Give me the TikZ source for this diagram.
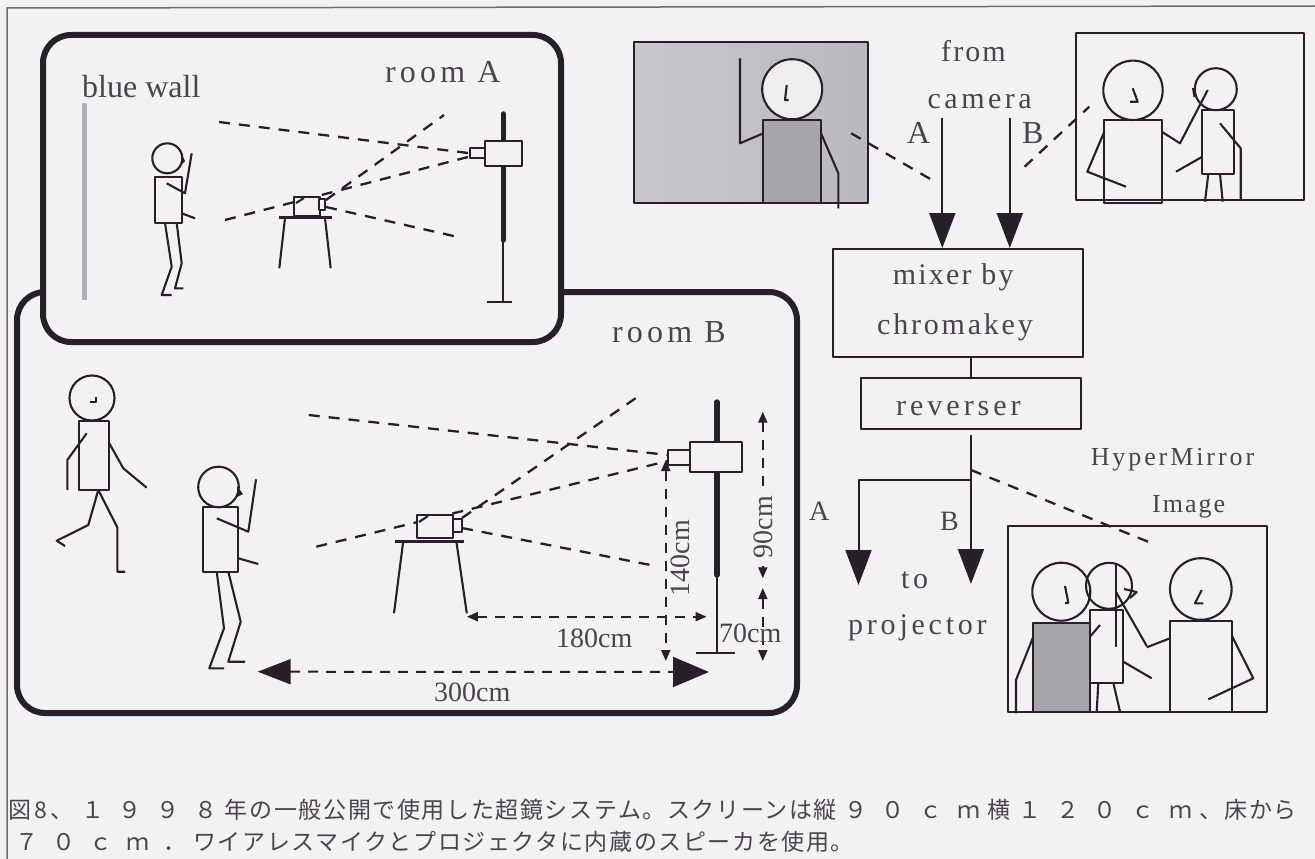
\documentclass[tikz,border=0pt]{standalone}
\usepackage{fontspec}
\setmainfont{Liberation Serif}
\newfontfamily\jpfont[LetterSpace=7.0]{Noto Sans CJK JP}
\usetikzlibrary{arrows.meta}
\definecolor{paper}{RGB}{242,242,243}
\definecolor{ink}{RGB}{38,33,36}
\definecolor{txt}{RGB}{72,70,72}
\definecolor{wallgray}{RGB}{176,176,178}
\definecolor{scrL}{RGB}{200,200,202}
\definecolor{scrR}{RGB}{186,186,188}
\definecolor{bodygray}{RGB}{166,166,168}
\definecolor{headwhite}{RGB}{238,238,238}
\definecolor{edge}{RGB}{110,108,110}
\newcommand\spaced[3]{{\fontsize{#1}{#1}\selectfont\addfontfeature{LetterSpace=#2}#3}}
\newcommand\plain[2]{{\fontsize{#1}{#1}\selectfont #2}}
\newcommand\fwbox[2][37.8pt]{\makebox[#1]{#2}}
\begin{document}
\begin{tikzpicture}[x=1pt,y=-1pt,line join=round,
  fig/.style={draw=ink,line width=2.1pt},
  roombox/.style={draw=ink,line width=6pt,rounded corners=28pt},
  sight/.style={draw=ink,line width=2.3pt,dash pattern=on 11pt off 9pt},
  dimline/.style={draw=ink,line width=2pt,dash pattern=on 10pt off 8pt},
  smalltips/.style={{Triangle[length=11pt,width=9pt]}-{Triangle[length=11pt,width=9pt]}},
  bigtips/.style={{Triangle[length=33pt,width=25pt]}-{Triangle[length=36pt,width=30pt]}},
  flow/.style={draw=ink,line width=2pt,-{Triangle[length=35pt,width=26pt]}},
  unit/.style={draw=ink,line width=2pt,inner sep=0pt,fill=paper},
  frameimg/.style={draw=ink,line width=2pt},
  lab/.style={inner sep=0pt,anchor=base west,text=txt},
]
\useasboundingbox (0,0) rectangle (1315,859);
\fill[paper] (0,0) rectangle (1315,859);
% page edge lines
\draw[edge,line width=1.5pt] (7,859) -- (7,8) -- (1315,6);

% ---------------- rooms ----------------
\draw[roombox] (17,292) rectangle (797,713);
\draw[roombox,fill=paper] (43,35) rectangle (561,342);

% ---------------- room A ----------------
\draw[wallgray,line width=5pt] (84,103) -- (84,300);
\node[lab,text=txt] (bluewall) at (82,97) {\plain{32}{blue wall}};
\node[lab] (roomA) at (385,82) {\spaced{32}{13}{room A}};
% lines of sight
\draw[sight] (219,122) -- (468,153);
\draw[sight] (225,220) -- (468,157);
\draw[sight] (326,200) -- (444,115);
\draw[sight] (326,207) -- (456.6,236.7);
% camera stand
\draw[ink,line width=5.5pt,line cap=round] (503.3,114) -- (503.3,240);
\draw[fig] (503.3,240) -- (503.3,301.7);
\draw[fig] (487.3,301.7) -- (511.7,301.7);
\draw[fig,fill=paper] (485,140.7) rectangle (522.3,166);
\draw[fig,fill=paper] (470,148.3) rectangle (485,158.3);
% projector on table
\draw[fig] (285,218) -- (279.3,268.3);
\draw[fig] (325,218) -- (330.7,268.3);
\draw[fig,fill=paper] (294,197.3) rectangle (320,216);
\draw[fig,fill=paper] (319.3,199.3) rectangle (325,210);
\draw[fig] (296,203) -- (304,198);
\draw[ink,line width=3.2pt] (279.3,217.7) -- (331.7,217.7);
% person
\draw[fig,fill=paper] (155,177) rectangle (182,223);
\draw[fig] (166.7,183.3) -- (185,193.3) -- (191.7,153.3);
\draw[fig] (181.7,213.3) -- (195,218.3);
\draw[fig,fill=paper] (167.3,158.3) circle[radius=15];
\fill[ink] (181,153) -- (185,161) -- (181,165) -- cycle;
\draw[fig] (165,223) -- (171.7,266.7) -- (161.7,295) -- (171.7,295);
\draw[fig] (176.7,223) -- (181.7,263.3) -- (175,288.3) -- (183.3,288.3);

% ---------------- room B ----------------
\node[lab] (roomB) at (612,342) {\spaced{32}{13}{room B}};
\draw[sight] (308.7,415) -- (668,455);
\draw[sight] (316.3,546.7) -- (668,461);
\draw[sight] (462,518) -- (640.3,395);
\draw[sight] (462,528) -- (650.5,565);
% camera stand
\draw[ink,line width=5.5pt,line cap=round] (716.8,402) -- (716.8,575);
\draw[fig] (716.8,575) -- (716.8,653.3);
\draw[fig] (696.4,653.3) -- (734.7,653.3);
\draw[fig,fill=paper] (689.8,441.7) rectangle (742.3,471.7);
\draw[fig,fill=paper] (668.4,450) rectangle (689.8,465);
% projector on table
\draw[fig] (403,543) -- (394,613.3);
\draw[fig] (456.6,543) -- (466.8,613.3);
\draw[fig,fill=paper] (417.3,515) rectangle (453,538.3);
\draw[fig,fill=paper] (453,519.3) rectangle (461.7,531.7);
\draw[fig] (419,522) -- (428,516);
\draw[ink,line width=3.2pt] (395.4,541.7) -- (464.3,541.7);
% walking person
\draw[fig,fill=paper] (79.3,420.7) rectangle (109.3,490);
\draw[fig] (86.7,433.3) -- (67.3,460) -- (67.3,490);
\draw[fig] (109.3,443.3) -- (123.3,468.3) -- (146.7,487.7);
\draw[fig,fill=paper] (92,398) circle[radius=22.5];
\draw[fig] (90,402) -- (96,402) -- (96,397);
\draw[fig] (98.3,490) -- (88.3,525) -- (56.7,540.7) -- (65,546);
\draw[fig] (98.3,490) -- (117.3,527.3) -- (117.3,571.7) -- (125,571.7);
% person with microphone
\draw[fig,fill=paper] (202.7,507.3) rectangle (238.3,571.7);
\draw[fig] (216.7,518.3) -- (248.3,531.7) -- (256,479.3);
\draw[fig] (238.3,558.3) -- (258.3,564);
\draw[fig,fill=paper] (218.5,487) circle[radius=20.3];
\fill[ink] (237,486) -- (243,494) -- (237,497) -- cycle;
\draw[fig] (216.7,571.7) -- (224,628.3) -- (209.3,668.3) -- (224,668.3);
\draw[fig] (228.3,571.7) -- (240.7,621.7) -- (228.3,661.7) -- (245,661.7);
% dimensions
\coordinate (d140a) at (665.8,460);
\coordinate (d140b) at (665.8,661);
\coordinate (d90a) at (762.8,411.7);
\coordinate (d90b) at (762.8,578.3);
\coordinate (d70a) at (762.8,588);
\coordinate (d70b) at (762.8,661);
\coordinate (d180a) at (466.8,616.7);
\coordinate (d180b) at (706.6,616.7);
\coordinate (d300a) at (257.7,671.7);
\coordinate (d300b) at (709,672);
\draw[dimline,smalltips] (d140a) -- (d140b);
\draw[dimline,smalltips] (d90a) -- (d90b);
\draw[dimline,smalltips] (d70a) -- (d70b);
\draw[dimline,smalltips] (d180a) -- (d180b);
\draw[dimline,bigtips] (d300a) -- (d300b);
\node[inner sep=0pt,text=txt,rotate=90] (t140) at (680,558) {\plain{28}{140cm}};
\node[inner sep=2pt,text=txt,rotate=90,fill=paper] (t90) at (763,527) {\plain{28}{90cm}};
\node[lab] (t70) at (719,642) {\plain{28}{70cm}};
\node[lab] (t180) at (556,647) {\plain{28}{180cm}};
\node[lab] (t300) at (434,701) {\plain{28}{300cm}};

% ---------------- camera image A ----------------
\shade[left color=scrL,right color=scrR] (634.3,41.7) rectangle (867.7,202.7);
\draw[fig] (740,58.3) -- (740,143.3) -- (763.3,133.3);
\draw[fig,fill=bodygray] (763.3,120) rectangle (821,202.7);
\draw[fig] (821,133.3) -- (838.3,173.3) -- (838.3,208.3);
\draw[fig,fill=headwhite] (792.2,89.2) circle[radius=30];
\draw[fig] (786.7,85) -- (785,100) -- (788.5,100);
\draw[frameimg] (634.3,41.7) rectangle (867.7,202.7);
\draw[sight] (851.2,133.3) -- (932,180);

% ---------------- camera image B ----------------
\draw[frameimg] (1076,33.3) rectangle (1304,200);
\draw[fig] (1104.3,131.7) -- (1087.3,171.7) -- (1126,186.7);
\draw[fig] (1104.3,120) rectangle (1161.7,202.7);
\draw[fig] (1161.7,131.7) -- (1180,143.3) -- (1207.7,90);
\draw[fig] (1133,90.3) circle[radius=29.7];
\draw[fig] (1132.7,88.3) -- (1137.7,101.7) -- (1130,101.7);
\draw[fig] (1215.8,89.2) circle[radius=21];
\draw[ink,line width=3pt] (1193.5,88) -- (1195,97);
\draw[fig] (1202.3,110) rectangle (1234,174);
\draw[fig] (1220,123.3) -- (1240.7,148.3) -- (1240.7,200);
\draw[fig] (1202.3,156.7) -- (1176,171.7);
\draw[fig] (1208.3,174) -- (1205,201.7);
\draw[fig] (1220,174) -- (1222.7,201.7);
\draw[sight] (1024.6,166.7) -- (1089.3,106.7);

% ---------------- signal flow ----------------
\node[lab] (from) at (941,62) {\spaced{30}{7}{from}};
\node[lab] (camera) at (927.5,108) {\spaced{30}{11.6}{camera}};
\node[lab] (inAlabel) at (907,143) {\plain{32}{A}};
\node[lab] (inBlabel) at (1022,143) {\plain{32}{B}};
\node[unit,minimum width=250pt,minimum height=107.7pt] (mixer) at (957.95,302.85) {};
\node[unit,minimum width=220pt,minimum height=51.6pt] (reverser) at (970.95,403.5) {};
\node[lab] (mix1) at (892.6,284) {\spaced{30}{7.4}{mixer by}};
\node[lab] (mix2) at (877,334) {\spaced{30}{9.3}{chromakey}};
\node[lab] (rev) at (896,415) {\spaced{30}{13.3}{reverser}};
\coordinate (camA) at (942.3,118);
\coordinate (camB) at (1009.8,118);
\draw[flow] (camA) -- (camA |- mixer.north);
\draw[flow] (camB) -- (camB |- mixer.north);
\draw[draw=ink,line width=2pt] (reverser.north) -- (reverser.north |- mixer.south);
\coordinate (split) at (970.95,480);
\coordinate (bendA) at (858.5,480);
\coordinate (outA) at (858.5,585);
\coordinate (outB) at (970.95,584);
\draw[draw=ink,line width=2pt,shorten <=5pt] (reverser.south) -- (split);
\draw[flow] (split) -- (outB);
\draw[flow] (split) -- (bendA) -- (outA);
\node[lab] (outAlabel) at (809,520) {\plain{28}{A}};
\node[lab] (outBlabel) at (940,530) {\plain{28}{B}};
\node[lab] (to) at (901,588) {\spaced{30}{12}{to}};
\node[lab] (proj) at (848,634) {\spaced{30}{12.6}{projector}};
\node[lab] (hm1) at (1090.6,465) {\spaced{26}{11.2}{HyperMirror}};
\node[lab] (hm2) at (1152,512) {\spaced{26}{7.7}{Image}};
\coordinate (hmlink) at (971,470);
\draw[sight] (hmlink) -- (1152,543.3);

% ---------------- HyperMirror image ----------------
\draw[frameimg] (1008.3,526) rectangle (1266.7,711.7);
\draw[fig] (1033.3,636.7) -- (1016,680) -- (1016,713.3);
\draw[fig,fill=bodygray] (1033.3,623.3) rectangle (1090,711.7);
\draw[fig,fill=paper] (1061.3,591.7) circle[radius=29];
\draw[fig] (1065,586) -- (1068.3,602.7) -- (1065,603.3);
\draw[fig] (1109,585.8) circle[radius=23];
\draw[fig,fill=paper] (1090,610) rectangle (1123.3,682.7);
\draw[fig] (1116,562.7) -- (1116,646.7);
\draw[fig] (1124,589) -- (1136.7,592) -- (1130,598);
\draw[fig] (1116,592) -- (1146.7,646);
\draw[fig] (1090,636.7) -- (1100,625);
\draw[fig] (1123.3,661.7) -- (1151.7,678.3);
\draw[fig] (1098.3,682.7) -- (1096.7,711.7);
\draw[fig] (1113.3,682.7) -- (1120,711.7);
\draw[fig] (1170,621) rectangle (1232.3,711.7);
\draw[fig] (1200.8,589) circle[radius=30.8];
\draw[fig] (1201.7,590) -- (1195,603.3) -- (1203.3,603.3);
\draw[fig] (1170,638.3) -- (1146.7,647.3);
\draw[fig] (1232.3,636.7) -- (1253.3,678.3) -- (1208.3,699.3);

% ---------------- caption ----------------
\node[lab] (cap1) at (8,818) {\jpfont\fontsize{23}{23}\selectfont 図\fwbox[19.6pt]{8}、\fwbox{１}\fwbox{９}\fwbox{９}\fwbox{８}年の一般公開で使用した超鏡システム。スクリーンは縦\fwbox{９}\fwbox{０}\fwbox{ｃ}\fwbox{ｍ}横\fwbox{１}\fwbox{２}\fwbox{０}\fwbox{ｃ}\fwbox{ｍ}、床から};
\node[lab] (cap2) at (8,850) {\jpfont\fontsize{23}{23}\selectfont \fwbox[37pt]{７}\fwbox[37pt]{０}\fwbox[37pt]{ｃ}\fwbox[37pt]{ｍ}\fwbox[37pt]{．}ワイアレスマイクとプロジェクタに内蔵のスピーカを使用。};
\end{tikzpicture}
\end{document}
